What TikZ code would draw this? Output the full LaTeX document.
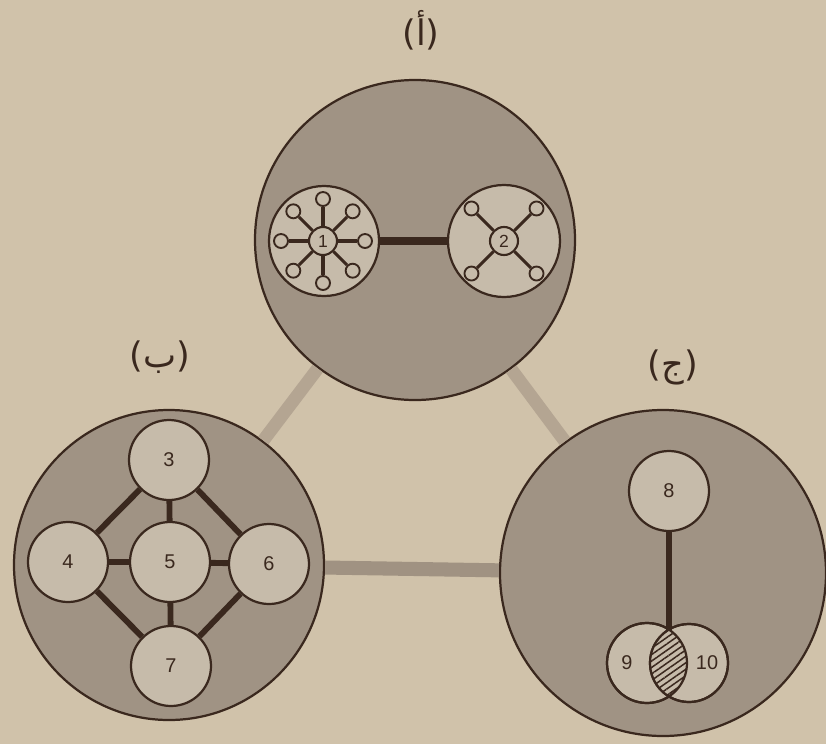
\documentclass[tikz,border=0pt]{standalone}
\usepackage{fontspec}
\setmainfont{Liberation Sans}
\newfontfamily\arabicfont[Script=Arabic]{DejaVu Sans}
\newfontfamily\parfont{DejaVu Sans}
\TeXXeTstate=1
\usetikzlibrary{patterns.meta}
\definecolor{bgc}{RGB}{208,194,170}
\definecolor{bigc}{RGB}{160,147,132}
\definecolor{subc}{RGB}{198,187,170}
\definecolor{inkc}{RGB}{58,40,30}
\definecolor{barc}{RGB}{180,165,146}
\definecolor{barbc}{RGB}{160,146,130}
\tikzset{
  big/.style={circle, draw=inkc, line width=1.9pt, fill=bigc, inner sep=0pt},
  sub/.style={circle, draw=inkc, line width=1.9pt, fill=subc, inner sep=0pt, text=inkc, font=\fontsize{17}{20}\selectfont},
  hub/.style={circle, draw=inkc, line width=1.8pt, fill=subc, inner sep=0pt, minimum size=0.84cm, text=inkc, font=\fontsize{15}{17}\selectfont},
  leaf/.style={circle, draw=inkc, line width=1.6pt, fill=subc, inner sep=0pt, minimum size=0.42cm},
  spoke/.style={draw=inkc, line width=2.7pt},
  link/.style={draw=inkc, line width=5pt},
  bar/.style={draw=barc, line width=11pt},
  barb/.style={draw=barbc, line width=12pt},
  numtxt/.style={text=inkc, inner sep=0pt, font=\fontsize{17}{20}\selectfont},
  lab/.style={text=inkc, inner sep=0pt, font=\fontsize{30}{34}\selectfont}
}
\begin{document}
\begin{tikzpicture}[x=0.03cm, y=-0.03cm]
\useasboundingbox (0,0) rectangle (826,744);
\fill[bgc] (0,0) rectangle (826,744);

% big circles
\node[big, minimum size=9.6cm] (A) at (415,240) {};
\node[big, minimum size=9.3cm] (B) at (169,565) {};
\node[big, minimum size=9.78cm] (C) at (663,573) {};

% bars between the big circles
\draw[bar] (A) -- (B);
\draw[bar] (A) -- (C);
\draw[barb] (B) -- (C);

% labels
\node[lab] (la) at (421,30) {{\parfont(}{\arabicfont\beginR أ\endR}{\parfont)}};
\node[lab] (lb) at (160,357) {{\parfont(}{\arabicfont\beginR ب\endR}{\parfont)}};
\node[lab] (lc) at (673,367) {{\parfont(}{\arabicfont\beginR ج\endR}{\parfont)}};

% circle A content
\node[sub, minimum size=3.3cm] (s1) at (324,241) {};
\node[sub, minimum size=3.36cm] (s2) at (504,241) {};
\draw[draw=inkc, line width=6.5pt] (s1) -- (s2);
\node[hub] (h1) at (323,241) {1};
\foreach \a in {0,45,...,315} {
  \path (h1.center) ++(\a:42) node[leaf] (l1-\a) {};
  \draw[spoke] (h1) -- (l1-\a);
}
\node[hub] (h2) at (504,241) {2};
\foreach \a in {45,135,225,315} {
  \path (h2.center) ++(\a:46) node[leaf] (l2-\a) {};
  \draw[spoke] (h2) -- (l2-\a);
}

% circle B content
\node[sub, minimum size=2.4cm] (n3) at (169,460) {3};
\node[sub, minimum size=2.4cm] (n4) at (68,562) {4};
\node[sub, minimum size=2.4cm] (n5) at (170,562) {5};
\node[sub, minimum size=2.4cm] (n6) at (269,564) {6};
\node[sub, minimum size=2.4cm] (n7) at (171,666) {7};
\foreach \p/\q in {n3/n4, n3/n6, n4/n7, n6/n7, n3/n5, n4/n5, n5/n6, n5/n7}
  \draw[link] (\p) -- (\q);

% circle C content
\node[sub, minimum size=2.4cm] (n8) at (669,491) {8};
\node[sub, minimum size=2.4cm] (n9) at (647,663) {};
\node[sub, minimum size=2.34cm] (n10) at (689,663) {};
\begin{scope}
  \clip (n9.center) circle (1.2cm);
  \fill[subc] (n10.center) circle (1.17cm);
  \fill[pattern={Lines[angle=35, distance=4.5pt, line width=1.3pt]}, pattern color=inkc] (n10.center) circle (1.17cm);
\end{scope}
\draw[draw=inkc, line width=1.9pt] (n9.center) circle (1.2cm);
\draw[draw=inkc, line width=1.9pt] (n10.center) circle (1.17cm);
\coordinate (lt) at (669,630);
\draw[link] (n8) -- (lt);
\node[numtxt] (t9) at (627,663) {9};
\node[numtxt] (t10) at (707,663) {10};
\end{tikzpicture}
\end{document}
